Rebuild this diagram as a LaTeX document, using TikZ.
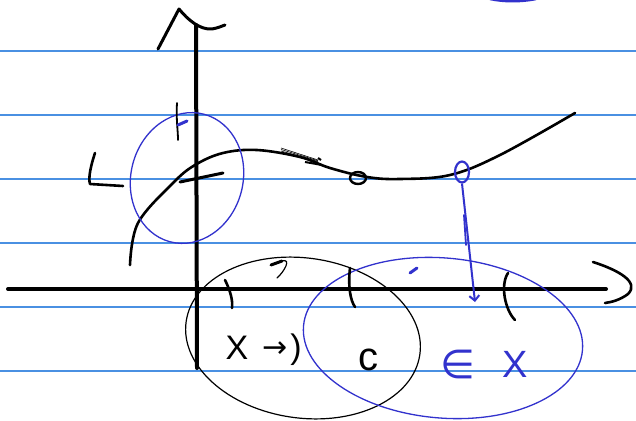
\documentclass[tikz,border=0pt]{standalone}
\usepackage{fontspec}
\setmainfont{Liberation Sans}
\newfontfamily\symfont{DejaVu Sans}
\usetikzlibrary{arrows.meta,shapes.geometric}
\definecolor{ruleblue}{RGB}{74,144,226}
\definecolor{ink}{RGB}{50,50,205}
\tikzset{
  ruled/.style={ruleblue, line width=1.3pt},
  axis/.style={black, line width=4pt, line cap=round},
  pen/.style={black, line width=2.6pt, line cap=round, line join=round},
  thinpen/.style={black, line width=1.2pt, line cap=round},
  bluepen/.style={ink, line width=1.3pt, line cap=round},
  bluethick/.style={ink, line width=3pt, line cap=round},
  handtext/.style={inner sep=0pt, font=\fontsize{34}{34}\selectfont},
}
\begin{document}
\begin{tikzpicture}[x=1pt,y=-1pt]
\useasboundingbox (0,0) rectangle (636,420);
\fill[white] (0,0) rectangle (636,420);
% ruled paper
\foreach \y in {51,115,179,243,307,371} \draw[ruled] (0,\y) -- (636,\y);
% top blue fragment
\draw[ink, line width=2.5pt] (490,-1) .. controls (505,2) and (520,2) .. (536,-1);
% axes
\coordinate (ytop) at (196,25);
\coordinate (ybot) at (197,368);
\draw[axis] (ytop) -- (ybot);
\draw[pen, line width=3pt] (158,49) -- (179,9) .. controls (188,20) and (200,30) .. (212,29) .. controls (218,28) and (222,26) .. (225,25);
\coordinate (xl) at (8,289);
\coordinate (xr) at (606,289);
\draw[axis] (xl) -- (xr);
\draw[pen] (593,262) .. controls (618,270) and (640,282) .. (628,294) .. controls (620,300) and (612,302) .. (605,303);
% function curve
\draw[pen] plot[smooth, tension=0.6] coordinates {(130,265) (138,223) (173,183) (195,165) (223,153) (257,150) (300,157) (330,168) (367,177) (400,179) (450,175) (500,155) (575,113)};
% scribbles on curve
\foreach \d in {0,1.5,3,4.5} \draw[black, line width=0.6pt] (281,148+\d) -- (318,160+\d/2);
\draw[black, line width=2pt] (305,162) -- (322,165);
\draw[black, line width=2pt] (318,158) -- (321,160);
% small black loop
\node[draw, line width=2.4pt, ellipse, minimum width=16pt, minimum height=12pt, inner sep=0pt] (loop) at (358,178) {};
% blue loop with drop line
\node[draw=ink, line width=2.2pt, ellipse, minimum width=14pt, minimum height=21pt, inner sep=0pt] (bloop) at (462,172) {};
\coordinate (foot) at (475,302);
\draw[ink, line width=2pt, -{Straight Barb[length=5pt]}] (bloop.south) -- (foot);
\draw[bluepen, line width=1.8pt] (464,215) -- (466,245);
% L mark
\draw[pen] (95,153) .. controls (91,165) and (88,178) .. (90,184) -- (123,186);
% blue circle on left
\draw[bluepen, rotate around={-15:(187,178)}] (187,178) ellipse [x radius=56, y radius=66];
% small marks near y axis
\draw[thinpen, line width=1.8pt] (177,103) .. controls (176,120) and (178,130) .. (178,140);
\draw[bluethick] (178,125) -- (187,121);
\draw[pen, line width=3pt] (180,182) -- (223,173);
% black ellipse
\draw[thinpen, rotate around={-8:(303,338)}] (303,338) ellipse [x radius=118, y radius=80];
% blue big ellipse
\draw[bluepen, rotate around={-5:(443,338)}] (443,338) ellipse [x radius=140, y radius=80];
% ticks on x axis
\draw[pen] (225,280) .. controls (230,290) and (233,300) .. (232,308);
\draw[pen] (350,268) .. controls (348,285) and (350,300) .. (355,307);
\draw[pen, line width=3pt] (271,265) -- (282,261);
\draw[thinpen] (282,261) .. controls (292,258) and (284,272) .. (277,278);
\draw[pen] (508,273) .. controls (500,285) and (505,310) .. (515,320);
\draw[bluethick] (410,273) -- (417,268);
% texts
\node[handtext] (tx) at (237,348) {X};
\node[handtext, font=\symfont\fontsize{30}{30}\selectfont] (tarrow) at (275,350) {→};
\node[handtext] (tpar) at (296,350) {)};
\node[handtext, font=\fontsize{40}{40}\selectfont] (tc) at (368,360) {c};
\node[handtext, ink, font=\symfont\fontsize{40}{40}\selectfont] (tin) at (458,364) {∈};
\node[handtext, ink, font=\fontsize{38}{38}\selectfont] (tX) at (515,364) {X};
\end{tikzpicture}
\end{document}
